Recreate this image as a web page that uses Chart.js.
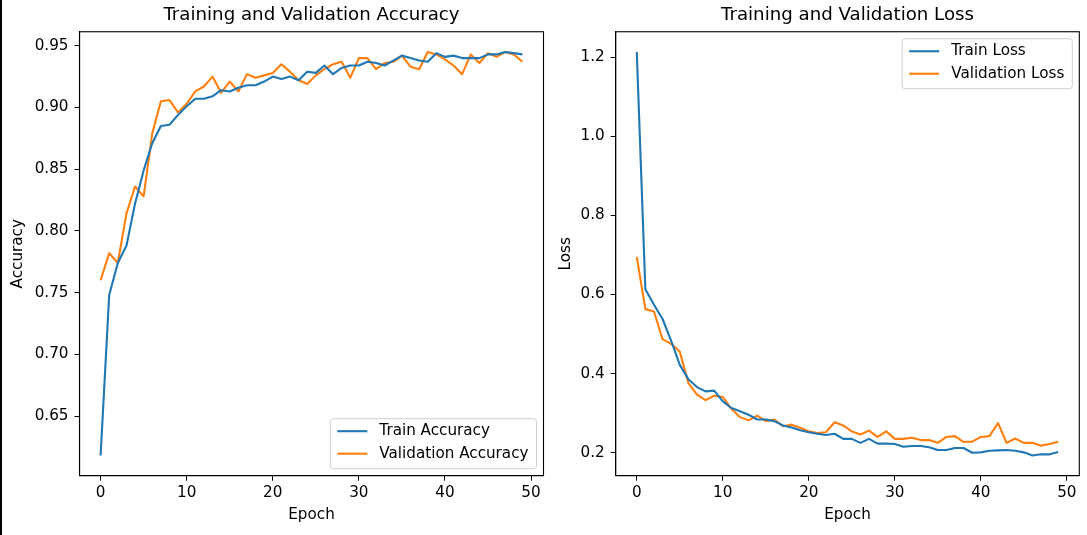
<!DOCTYPE html>
<html><head><meta charset="utf-8">
<script src="https://cdn.jsdelivr.net/npm/chart.js@4"></script>
<style>
html,body{margin:0;padding:0;background:#fff;width:1087px;height:535px;overflow:hidden;position:relative}
canvas{position:absolute;top:0}
#c1{left:0}
#c2{left:550px}
#edge{position:absolute;left:0;top:0;width:2px;height:535px;background:#000}
</style></head><body>
<canvas id="c1" width="550" height="535"></canvas>
<canvas id="c2" width="537" height="535"></canvas>
<div id="edge"></div>
<script>
const epochs = [0,1,2,3,4,5,6,7,8,9,10,11,12,13,14,15,16,17,18,19,20,21,22,23,24,25,26,27,28,29,30,31,32,33,34,35,36,37,38,39,40,41,42,43,44,45,46,47,48,49];
const trainAcc = [0.618,0.748,0.774,0.788,0.822,0.849,0.871,0.885,0.886,0.894,0.901,0.907,0.907,0.909,0.914,0.913,0.916,0.918,0.918,0.921,0.925,0.923,0.925,0.922,0.929,0.928,0.934,0.927,0.932,0.934,0.934,0.937,0.936,0.934,0.938,0.942,0.940,0.938,0.937,0.944,0.941,0.942,0.940,0.940,0.940,0.943,0.943,0.945,0.944,0.943];
const valAcc = [0.760,0.782,0.774,0.814,0.836,0.828,0.879,0.905,0.906,0.896,0.903,0.913,0.917,0.925,0.912,0.921,0.913,0.927,0.924,0.926,0.928,0.935,0.929,0.922,0.919,0.926,0.931,0.935,0.937,0.924,0.940,0.940,0.931,0.936,0.937,0.942,0.933,0.931,0.945,0.943,0.939,0.934,0.927,0.943,0.936,0.944,0.941,0.945,0.943,0.937];
const trainLoss = [1.213,0.613,0.574,0.538,0.483,0.422,0.386,0.366,0.355,0.357,0.330,0.313,0.305,0.296,0.284,0.284,0.280,0.269,0.264,0.257,0.252,0.248,0.245,0.248,0.235,0.235,0.225,0.235,0.223,0.223,0.222,0.215,0.217,0.217,0.214,0.207,0.207,0.212,0.212,0.200,0.201,0.205,0.206,0.207,0.205,0.201,0.193,0.196,0.196,0.202];
const valLoss = [0.695,0.563,0.557,0.487,0.475,0.456,0.376,0.347,0.333,0.344,0.341,0.311,0.290,0.282,0.294,0.280,0.284,0.267,0.271,0.263,0.254,0.250,0.252,0.277,0.269,0.254,0.246,0.256,0.240,0.254,0.235,0.235,0.238,0.232,0.232,0.225,0.240,0.242,0.227,0.228,0.240,0.242,0.275,0.225,0.236,0.225,0.225,0.218,0.222,0.228];
const epochTicks = [0,10,20,30,40,50];
const accTicks = [0.65,0.70,0.75,0.80,0.85,0.90,0.95];
const lossTicks = [0.2,0.4,0.6,0.8,1.0,1.2];

const BLUE = '#1f77b4', ORANGE = '#ff7f0e';
const FAM = '"DejaVu Sans", sans-serif';
const FS = 15.2;
Chart.defaults.font.family = FAM;
Chart.defaults.font.size = FS;
Chart.defaults.color = '#000';

function margins(arrs){
  const all = [].concat(...arrs);
  const mn = Math.min(...all), mx = Math.max(...all);
  const p = (mx - mn) * 0.05;
  return [mn - p, mx + p];
}

const framePlugin = {
  id: 'frame',
  afterDatasetsDraw(chart){
    const {ctx, chartArea:a} = chart;
    ctx.save();
    ctx.strokeStyle = '#000'; ctx.lineWidth = 1.1;
    ctx.strokeRect(a.left, a.top, a.right - a.left, a.bottom - a.top);
    ctx.restore();
  }
};

const legendPlugin = {
  id: 'mplLegend',
  afterDraw(chart, args, opts){
    const {ctx, chartArea:a} = chart;
    const ds = chart.data.datasets;
    ctx.save();
    ctx.font = FS + 'px ' + FAM;
    const tw = Math.max(...ds.map(d => ctx.measureText(d.label).width));
    const w = 7 + 30 + 12 + tw + 8, h = 50;
    const x = a.right - 7 - w;
    const y = opts.corner === 'lower right' ? a.bottom - 7 - h : a.top + 7;
    ctx.beginPath();
    ctx.roundRect(x, y, w, h, 3);
    ctx.fillStyle = 'rgba(255,255,255,0.8)'; ctx.fill();
    ctx.strokeStyle = '#d0d0d0'; ctx.lineWidth = 1; ctx.stroke();
    ds.forEach((d, i) => {
      const cy = y + 12.5 + i * 22.5;
      ctx.strokeStyle = d.borderColor; ctx.lineWidth = 2.1;
      ctx.beginPath(); ctx.moveTo(x + 7, cy); ctx.lineTo(x + 37, cy); ctx.stroke();
      ctx.fillStyle = '#000'; ctx.textBaseline = 'middle'; ctx.textAlign = 'left';
      ctx.fillText(d.label, x + 49, cy);
    });
    ctx.restore();
  }
};

function makeChart(id, c){
  const [xmin, xmax] = margins([epochs]);
  const [ymin, ymax] = margins([c.s1, c.s2]);
  const line = (label, arr, color) => ({
    label, data: epochs.map((e, i) => ({x: e, y: arr[i]})),
    borderColor: color, backgroundColor: color, borderWidth: 2.1,
    pointRadius: 0, tension: 0, fill: false, borderJoinStyle: 'round'
  });
  return new Chart(document.getElementById(id), {
    type: 'line',
    data: { datasets: [line(c.labels[0], c.s1, BLUE), line(c.labels[1], c.s2, ORANGE)] },
    options: {
      responsive: false, animation: false, devicePixelRatio: 1,
      layout: { padding: { left: 0, right: c.padRight, top: 0, bottom: 0 } },
      plugins: {
        legend: { display: false }, tooltip: { enabled: false },
        title: { display: true, text: c.title, fullSize: false, color: '#000',
                 font: { size: 18.2, weight: 'normal', family: FAM }, padding: { top: 4.5, bottom: 5.4 } },
        mplLegend: { corner: c.corner }
      },
      scales: {
        x: {
          type: 'linear', min: xmin, max: xmax,
          afterBuildTicks: s => { s.ticks = epochTicks.map(v => ({value: v})); },
          afterFit: s => { s.height = 59.3; },
          ticks: { autoSkip: false, maxRotation: 0, minRotation: 0, padding: 3, color: '#000', callback: v => String(v) },
          grid: { drawOnChartArea: false, drawTicks: true, tickLength: 5, color: '#000', lineWidth: 1 },
          border: { display: true, color: '#000', width: 1.1 },
          title: { display: true, text: 'Epoch', color: '#000', padding: { top: 0, bottom: 11 } }
        },
        y: {
          type: 'linear', min: ymin, max: ymax,
          afterBuildTicks: s => { s.ticks = c.ticks.map(v => ({value: v})); },
          afterFit: s => { s.width = c.yWidth; },
          ticks: { autoSkip: false, padding: 6, color: '#000', callback: v => v.toFixed(c.dec) },
          grid: { drawOnChartArea: false, drawTicks: true, tickLength: 5, color: '#000', lineWidth: 1 },
          border: { display: true, color: '#000', width: 1.1 },
          title: { display: true, text: c.ylabel, color: '#000', padding: { top: c.yTitlePad, bottom: 0 } }
        }
      }
    },
    plugins: [framePlugin, legendPlugin]
  });
}

makeChart('c1', {
  title: 'Training and Validation Accuracy', ylabel: 'Accuracy',
  labels: ['Train Accuracy', 'Validation Accuracy'], s1: trainAcc, s2: valAcc,
  ticks: accTicks, dec: 2, corner: 'lower right', yWidth: 79.5, padRight: 6.5, yTitlePad: 9.4
});
makeChart('c2', {
  title: 'Training and Validation Loss', ylabel: 'Loss',
  labels: ['Train Loss', 'Validation Loss'], s1: trainLoss, s2: valLoss,
  ticks: lossTicks, dec: 1, corner: 'upper right', yWidth: 65.7, padRight: 7.7, yTitlePad: 7.4
});
</script>
</body></html>
